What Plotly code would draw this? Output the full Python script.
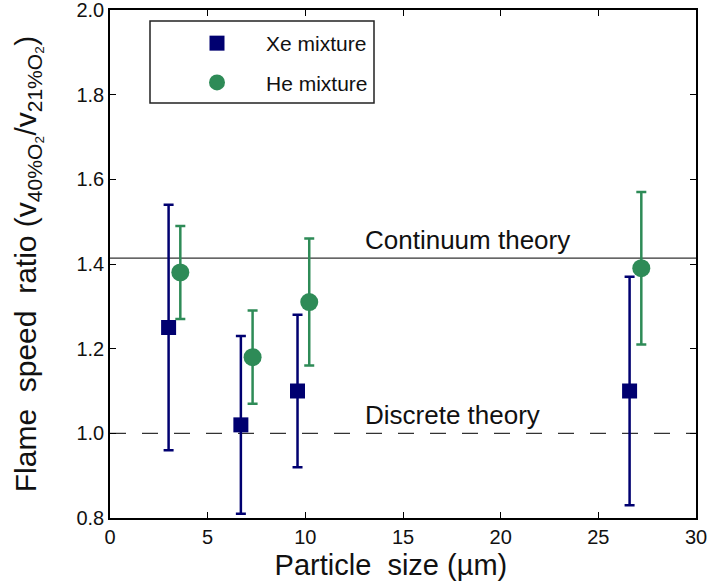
import plotly.graph_objects as go

# Data
xe_x = [3.0, 6.7, 9.6, 26.6]
xe_y = [1.25, 1.02, 1.10, 1.10]
xe_lo = [0.96, 0.81, 0.92, 0.83]
xe_hi = [1.54, 1.23, 1.28, 1.37]

he_x = [3.6, 7.3, 10.2, 27.2]
he_y = [1.38, 1.18, 1.31, 1.39]
he_lo = [1.27, 1.07, 1.16, 1.21]
he_hi = [1.49, 1.29, 1.46, 1.57]

continuum = 1.414
discrete = 1.0
label_x = 12.95
x_range = [0, 30]
y_range = [0.8, 2.0]
x_ticks = [0, 5, 10, 15, 20, 25, 30]
y_ticks = [0.8, 1.0, 1.2, 1.4, 1.6, 1.8, 2.0]

XE_COLOR = "#000070"
HE_COLOR = "#2e8b57"
FONT = "Liberation Sans, Arial, sans-serif"

fig = go.Figure()

fig.add_trace(go.Scatter(
    x=xe_x, y=xe_y, mode="markers", name="Xe mixture", legendgroup="xe",
    marker=dict(symbol="square", size=15, color=XE_COLOR),
    error_y=dict(type="data", symmetric=False,
                 array=[h - y for h, y in zip(xe_hi, xe_y)],
                 arrayminus=[y - l for l, y in zip(xe_lo, xe_y)],
                 color=XE_COLOR, thickness=2.5, width=5),
))
fig.add_trace(go.Scatter(
    x=he_x, y=he_y, mode="markers", name="He mixture", legendgroup="he",
    marker=dict(symbol="circle", size=18, color=HE_COLOR),
    error_y=dict(type="data", symmetric=False,
                 array=[h - y for h, y in zip(he_hi, he_y)],
                 arrayminus=[y - l for l, y in zip(he_lo, he_y)],
                 color=HE_COLOR, thickness=2.5, width=5),
))

fig.add_hline(y=continuum, line=dict(color="#333333", width=1.2), layer="below")
fig.add_hline(y=discrete, line=dict(color="#333333", width=1.2, dash="16px,16px"), layer="below")

fig.add_annotation(x=label_x, y=continuum, text="Continuum theory", showarrow=False,
                   xanchor="left", yshift=18, font=dict(size=26, family=FONT, color="#111111"))
fig.add_annotation(x=label_x, y=discrete, text="Discrete theory", showarrow=False,
                   xanchor="left", yshift=18, font=dict(size=26, family=FONT, color="#111111"))

# Legend box
fig.add_shape(type="rect", xref="paper", yref="paper",
              x0=40/586, x1=264/586, y0=(518-103)/508, y1=(518-21)/508,
              line=dict(color="#222222", width=1.5), fillcolor="white", layer="below")

axis_common = dict(showline=True, linecolor="black", linewidth=1.5, mirror="ticks",
                   ticks="inside", ticklen=6, tickcolor="black", showgrid=False,
                   zeroline=False, automargin=False, ticklabeloverflow="allow",
                   tickfont=dict(size=20, family=FONT, color="#111111"))

fig.update_xaxes(range=x_range, tickvals=x_ticks, **axis_common,
                 title=dict(text="Particle  size (µm)&nbsp;&nbsp;&nbsp;", standoff=8,
                            font=dict(size=29, family=FONT, color="#111111")))
fig.update_yaxes(range=y_range, tickvals=y_ticks, tickformat=".1f", **axis_common,
                 title=dict(text="Flame  speed  ratio (v<sub>40%O₂</sub>/v<sub>21%O₂</sub>)",
                            standoff=31, font=dict(size=30, family=FONT, color="#111111")))

fig.update_layout(
    width=707, height=588,
    margin=dict(l=110, r=11, t=10, b=70),
    plot_bgcolor="white", paper_bgcolor="white",
    font=dict(family=FONT),
    legend=dict(x=58/586, y=495/508, xanchor="left", yanchor="top",
                bgcolor="rgba(0,0,0,0)", borderwidth=0,
                font=dict(size=21, family=FONT, color="#111111"),
                tracegroupgap=9, itemwidth=88),
    showlegend=True,
)

fig.write_html("out.html", config={"displayModeBar": False},
               post_script="document.body.style.margin='0';")
